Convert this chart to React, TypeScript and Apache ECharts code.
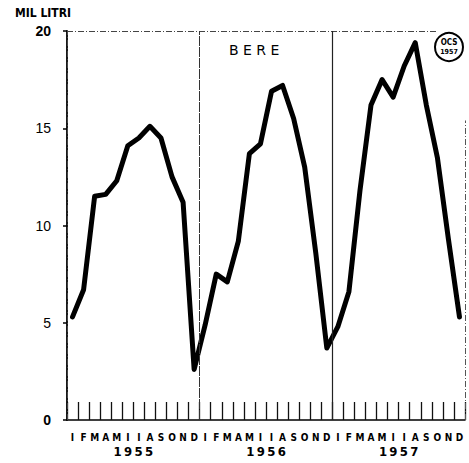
import React, { useEffect, useRef } from "react";
import * as echarts from "echarts";

const months = ["I", "F", "M", "A", "M", "I", "I", "A", "S", "O", "N", "D"];
const years = ["1955", "1956", "1957"];
const values1955 = [5.3, 6.7, 11.5, 11.6, 12.3, 14.1, 14.5, 15.1, 14.5, 12.5, 11.2, 2.6];
const values1956 = [4.9, 7.5, 7.1, 9.2, 13.7, 14.2, 16.9, 17.2, 15.5, 13.0, 8.6, 3.7];
const values1957 = [4.8, 6.6, 11.8, 16.2, 17.5, 16.6, 18.2, 19.4, 16.2, 13.5, 9.3, 5.3];
const yTicks = [0, 5, 10, 15, 20];

export default function App() {
  const ref = useRef<HTMLDivElement>(null);
  useEffect(() => {
    if (!ref.current) return;
    const chart = echarts.init(ref.current, null, { renderer: "svg" });
    const allValues = [...values1955, ...values1956, ...values1957];
    const data = allValues.map((v, i) => [i + 0.5, v]);
    const monthCats: string[] = [];
    years.forEach(() => months.forEach((m) => monthCats.push(m)));
    const nMonths = monthCats.length;
    const font = "'DejaVu Sans Condensed', 'Liberation Sans Narrow', 'DejaVu Sans', sans-serif";

    chart.setOption({
      animation: false,
      backgroundColor: "#ffffff",
      grid: { left: 67, right: 4, top: 31, bottom: 43, containLabel: false },
      xAxis: [
        {
          type: "value",
          min: 0,
          max: nMonths,
          interval: 12,
          show: false,
        },
        {
          type: "category",
          position: "bottom",
          data: monthCats,
          boundaryGap: true,
          axisLine: { show: true, lineStyle: { color: "#000", width: 1.6 } },
          axisTick: {
            show: true,
            inside: true,
            length: 18,
            interval: 0,
            alignWithLabel: false,
            lineStyle: { color: "#111", width: 1.3 },
          },
          axisLabel: {
            interval: 0,
            margin: 12,
            color: "#000",
            fontSize: 10,
            lineHeight: 10,
            fontWeight: "bold",
            fontFamily: font,
          },
          splitLine: { show: false },
        },
        {
          type: "category",
          position: "bottom",
          data: years,
          boundaryGap: true,
          axisLine: { show: false },
          axisTick: { show: false },
          axisLabel: {
            margin: 25,
            color: "#000",
            fontSize: 13,
            lineHeight: 13,
            fontWeight: "bold",
            fontFamily: font,
            formatter: (v: string) => v.split("").join("\u2009"),
          },
          splitLine: { show: false },
        },
      ],
      yAxis: {
        type: "value",
        min: yTicks[0],
        max: yTicks[yTicks.length - 1],
        interval: 5,
        offset: 10,
        axisLine: { show: true, lineStyle: { color: "#000", width: 1.8 } },
        axisTick: { show: true, length: 4, lineStyle: { color: "#000", width: 1.5 } },
        axisLabel: {
          margin: 6,
          color: "#000",
          fontSize: 14,
          fontFamily: "'Liberation Sans', 'DejaVu Sans', sans-serif",
          formatter: (v: number) => (v === 0 || v === 20 ? `{b|${v}}` : `${v}`),
          rich: { b: { fontWeight: "bold", fontSize: 14, color: "#000" } },
        },
        splitLine: { show: false },
      },
      series: [
        {
          type: "line",
          xAxisIndex: 0,
          data,
          symbol: "none",
          lineStyle: { color: "#000", width: 5, join: "round", cap: "round" },
          silent: true,
          markLine: {
            silent: true,
            symbol: "none",
            label: { show: false },
            data: [
              [
                { coord: [0, 20], lineStyle: { color: "#444", width: 1, type: [6, 2, 1, 2] } },
                { coord: [33.5, 20] },
              ],
              [
                { coord: [0, 0], lineStyle: { color: "#444", width: 1, type: [6, 2, 1, 2] } },
                { coord: [0, 20] },
              ],
              [
                { coord: [36, 0], lineStyle: { color: "#555", width: 1, type: [6, 2, 1, 2] } },
                { coord: [36, 15.4] },
              ],
              [
                { coord: [12, 0], lineStyle: { color: "#333", width: 1, type: [10, 1] } },
                { coord: [12, 20] },
              ],
              [
                { coord: [24, 0], lineStyle: { color: "#222", width: 1.2, type: "solid" } },
                { coord: [24, 20] },
              ],
            ],
          },
        },
      ],
      graphic: [
        {
          type: "text",
          left: 15,
          top: 7,
          style: {
            text: "MIL LITRI",
            fill: "#000",
            font: `bold 12px ${font}`,
          },
        },
        {
          type: "text",
          left: 229,
          top: 43,
          style: {
            text: "B E R E",
            fill: "#000",
            font: "14px 'DejaVu Sans', sans-serif",
          },
        },
        {
          type: "circle",
          shape: { cx: 449, cy: 47, r: 14 },
          style: { fill: "#fff", stroke: "#000", lineWidth: 2 },
        },
        {
          type: "text",
          x: 449,
          y: 42,
          style: {
            text: "OCS",
            fill: "#000",
            align: "center",
            verticalAlign: "middle",
            font: `bold 8px ${font}`,
          },
        },
        {
          type: "text",
          x: 449,
          y: 52,
          style: {
            text: "1957",
            fill: "#000",
            align: "center",
            verticalAlign: "middle",
            font: `bold 7px ${font}`,
          },
        },
      ],
    });
    return () => chart.dispose();
  }, []);
  return (
    <div
      ref={ref}
      style={{ position: "fixed", left: 0, top: 0, width: 469, height: 463 }}
    />
  );
}
